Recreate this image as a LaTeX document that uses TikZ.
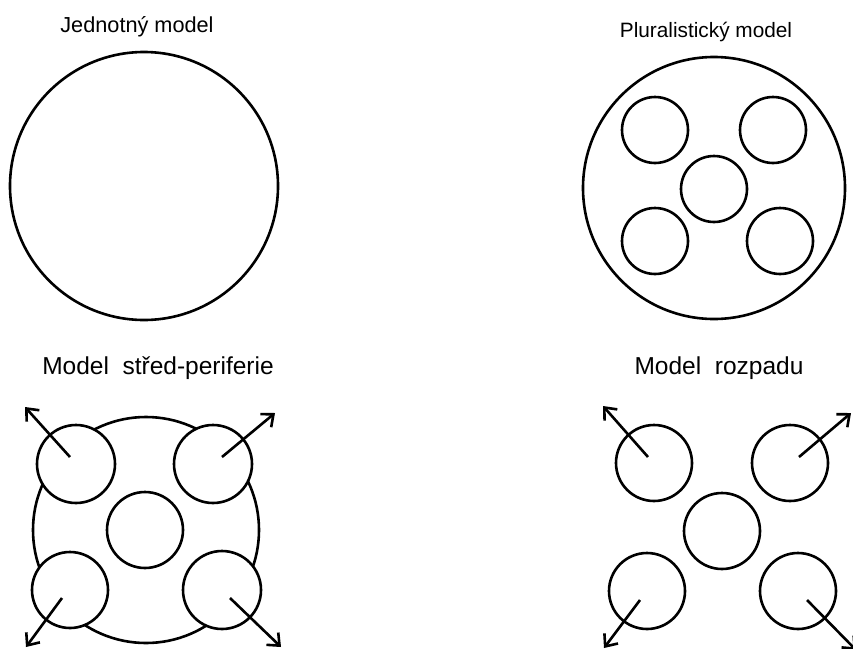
\documentclass[tikz,border=0pt]{standalone}
\usepackage{fontspec}
\setmainfont{Liberation Sans}
\usetikzlibrary{arrows.meta}
\begin{document}
\begin{tikzpicture}[x=1pt,y=-1pt,
  ring/.style={draw=black,line width=2.6pt,circle,inner sep=0pt,fill=white},
  bigring/.style={ring,minimum size=#1},
  smallring/.style={ring,minimum size=#1},
  outarrow/.style={line width=2.6pt,-{Straight Barb[length=10pt,width=17pt,line width=2.6pt]}},
  title/.style={anchor=base,inner sep=0pt}]
\useasboundingbox (0,0) rectangle (853,648);
% titles
\node[title,font=\fontsize{21.7}{24}\selectfont] (t1) at (137,32) {Jednotný model};
\node[title,font=\fontsize{20.8}{24}\selectfont] (t2) at (706,37) {Pluralistický model};
\node[title,font=\fontsize{24.5}{27}\selectfont] (t3) at (158,374) {Model\ \ střed-periferie};
\node[title,font=\fontsize{24.5}{27}\selectfont] (t4) at (719,374) {Model\ \ rozpadu};
% unitary model
\node[bigring=268pt] (u) at (144,186) {};
% pluralistic model
\node[bigring=262pt] (p) at (714,188) {};
\node[smallring=66pt] (p1) at (655,130) {};
\node[smallring=66pt] (p2) at (773,130) {};
\node[smallring=66pt] (p0) at (714,189) {};
\node[smallring=66pt] (p3) at (655,241) {};
\node[smallring=66pt] (p4) at (780,241) {};
% centre-periphery model
\node[bigring=226pt] (c) at (146,530) {};
\node[smallring=78pt] (c1) at (76,464) {};
\node[smallring=78pt] (c2) at (213,464) {};
\node[smallring=76pt] (c0) at (145,530) {};
\node[smallring=76pt] (c3) at (70,590) {};
\node[smallring=78pt] (c4) at (222,590) {};
\coordinate (c1s) at (70,457);  \coordinate (c1e) at (25,407);
\coordinate (c2s) at (222,457); \coordinate (c2e) at (275,413);
\coordinate (c3s) at (62,598);  \coordinate (c3e) at (26,647);
\coordinate (c4s) at (230,598); \coordinate (c4e) at (281,647);
\draw[outarrow] (c1s) -- (c1e);
\draw[outarrow] (c2s) -- (c2e);
\draw[outarrow] (c3s) -- (c3e);
\draw[outarrow] (c4s) -- (c4e);
% disintegration model
\node[smallring=76pt] (r1) at (654,463) {};
\node[smallring=76pt] (r2) at (790,463) {};
\node[smallring=76pt] (r0) at (722,531) {};
\node[smallring=76pt] (r3) at (647,591) {};
\node[smallring=76pt] (r4) at (798,591) {};
\coordinate (r1s) at (648,457); \coordinate (r1e) at (603,406);
\coordinate (r2s) at (799,457); \coordinate (r2e) at (851,413);
\coordinate (r3s) at (640,600); \coordinate (r3e) at (604,648);
\coordinate (r4s) at (807,600); \coordinate (r4e) at (856,650);
\draw[outarrow] (r1s) -- (r1e);
\draw[outarrow] (r2s) -- (r2e);
\draw[outarrow] (r3s) -- (r3e);
\draw[outarrow] (r4s) -- (r4e);
\end{tikzpicture}
\end{document}
